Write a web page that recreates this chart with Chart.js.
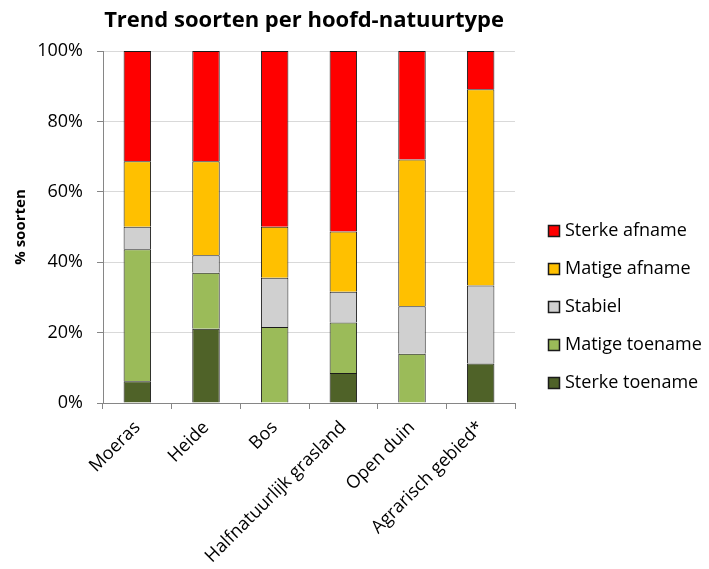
<!DOCTYPE html>
<html>
<head>
<meta charset="utf-8">
<script src="https://cdn.jsdelivr.net/npm/chart.js@4/dist/chart.umd.min.js"></script>
<style>
html,body{margin:0;padding:0;background:#fff;}
#wrap{width:709px;height:569px;position:relative;}
</style>
</head>
<body>
<div id="wrap"><canvas id="c" width="709" height="569"></canvas></div>
<script>
const categories = ['Moeras', 'Heide', 'Bos', 'Halfnatuurlijk grasland', 'Open duin', 'Agrarisch gebied*'];
const sterkeToename = [6.2, 21.1, 0, 8.5, 0, 11.2];
const matigeToename = [37.5, 15.9, 21.6, 14.4, 14.0, 0];
const stabiel = [6.4, 5.0, 14.0, 8.7, 13.5, 22.2];
const matigeAfname = [18.6, 26.7, 14.5, 17.1, 41.7, 55.7];
const sterkeAfname = [31.3, 31.3, 49.9, 51.3, 30.8, 10.9];
const yTicks = [0, 20, 40, 60, 80, 100];
const titleText = 'Trend soorten per hoofd-natuurtype';
const yTitle = '% soorten';

const FONT = '"Open Sans", Lato, sans-serif';

function ds(label, data, color) {
  return {
    label, data, backgroundColor: color, borderColor: '#1a1a1a', borderWidth: 1,
    barPercentage: 0.4, categoryPercentage: 1.0
  };
}

const titlePlugin = {
  id: 'customTitle',
  afterDraw(chart) {
    const ctx = chart.ctx;
    ctx.save();
    ctx.font = 'bold 22px ' + FONT;
    ctx.fillStyle = '#000';
    ctx.textAlign = 'center';
    ctx.textBaseline = 'middle';
    ctx.fillText(titleText, 304, 21);
    ctx.restore();
  }
};

// Legend drawn next to the plot, items taken from the chart's datasets (reversed order)
const legendPlugin = {
  id: 'sideLegend',
  afterDraw(chart) {
    const ctx = chart.ctx;
    const items = chart.data.datasets.map(d => ({ label: d.label, color: d.backgroundColor })).reverse();
    const x0 = chart.chartArea.right + 33;
    const yFirst = 231, step = 38, box = 12;
    ctx.save();
    ctx.font = '18px ' + FONT;
    ctx.textBaseline = 'middle';
    ctx.textAlign = 'left';
    items.forEach((it, i) => {
      const y = yFirst + i * step;
      ctx.fillStyle = it.color;
      ctx.fillRect(x0, y - box / 2, box, box);
      ctx.strokeStyle = '#1a1a1a';
      ctx.lineWidth = 1.5;
      ctx.strokeRect(x0 + 0.5, y - box / 2 + 0.5, box - 1, box - 1);
      ctx.fillStyle = '#000';
      ctx.fillText(it.label, x0 + box + 5, y);
    });
    ctx.restore();
  }
};

new Chart(document.getElementById('c'), {
  type: 'bar',
  data: {
    labels: categories,
    datasets: [
      ds('Sterke toename', sterkeToename, '#4F6228'),
      ds('Matige toename', matigeToename, '#9BBB59'),
      ds('Stabiel', stabiel, '#D0D0D0'),
      ds('Matige afname', matigeAfname, '#FFC000'),
      ds('Sterke afname', sterkeAfname, '#FF0000')
    ]
  },
  plugins: [titlePlugin, legendPlugin],
  options: {
    responsive: false,
    animation: false,
    layout: { padding: { top: 51, left: 8, right: 194, bottom: 4 } },
    plugins: {
      title: { display: false },
      tooltip: { enabled: false },
      legend: { display: false }
    },
    scales: {
      x: {
        stacked: true,
        afterFit(scale) { scale.height = 162; },
        grid: { offset: true, drawOnChartArea: false, tickLength: 6, color: '#868686' },
        border: { color: '#868686' },
        ticks: { minRotation: 45, maxRotation: 45, autoSkip: false, color: '#000', font: { family: FONT, size: 18 }, padding: 8 },
      },
      y: {
        stacked: true,
        min: 0, max: 100,
        afterFit(scale) { scale.width = 95; },
        afterBuildTicks(scale) { scale.ticks = yTicks.map(v => ({ value: v })); },
        grid: { color: '#d9d9d9', tickLength: 6, tickColor: '#868686' },
        border: { color: '#868686' },
        title: { display: true, text: yTitle, color: '#000', font: { family: FONT, size: 15, weight: 'bold' }, padding: { bottom: 0 } },
        ticks: { color: '#000', font: { family: FONT, size: 18 }, padding: 14, callback: v => v + '%' }
      }
    }
  }
});
</script>
</body>
</html>
